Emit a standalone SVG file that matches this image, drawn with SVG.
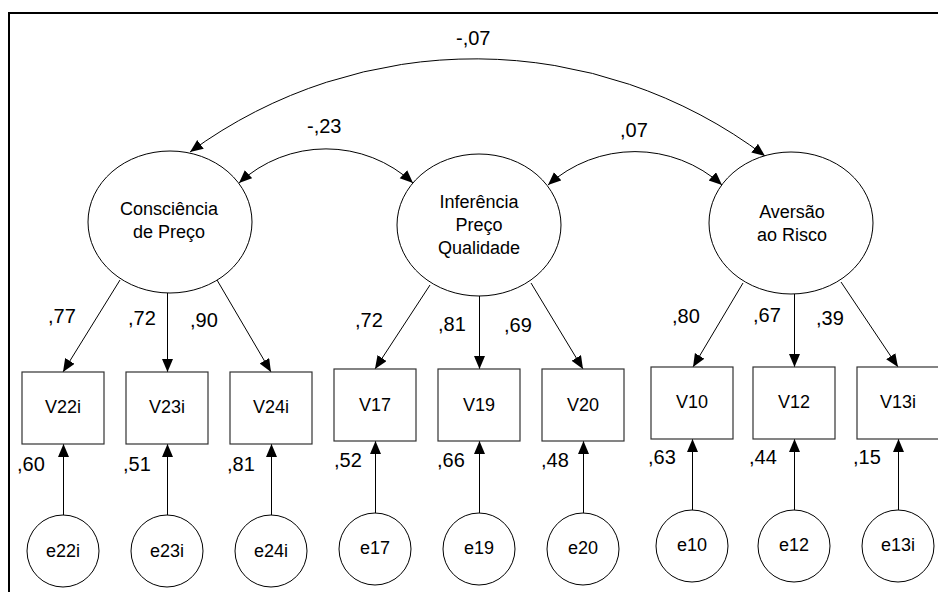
<svg xmlns="http://www.w3.org/2000/svg" width="938" height="592" viewBox="0 0 938 592">
<style>
  .lat { fill: #fff; stroke: #000; stroke-width: 1; }
  .box { fill: #fff; stroke: #333; stroke-width: 1.2; }
  .err { fill: #fff; stroke: #000; stroke-width: 1; }
  .t { font-family: "Liberation Sans", Arial, sans-serif; font-size: 18px; fill: #000; text-anchor: middle; }
  .lb { font-family: "Liberation Sans", Arial, sans-serif; font-size: 20px; fill: #000; }
  .c line, .c path { stroke: #000; stroke-width: 1; fill: none; }
  .c line { marker-end: url(#ah); }
  .c path { marker-end: url(#ah); marker-start: url(#ahs); }
</style>
<defs>
  <marker id="ah" markerUnits="userSpaceOnUse" markerWidth="14" markerHeight="12" refX="13" refY="5.5" orient="auto">
    <path d="M0,0 L13,5.5 L0,11 z" fill="#000"/>
  </marker>
  <marker id="ahs" markerUnits="userSpaceOnUse" markerWidth="14" markerHeight="12" refX="13" refY="5.5" orient="auto-start-reverse">
    <path d="M0,0 L13,5.5 L0,11 z" fill="#000"/>
  </marker>
</defs>
<rect x="0" y="0" width="938" height="592" fill="#fff"/>
<rect x="9" y="13" width="960" height="620" fill="none" stroke="#000" stroke-width="2"/>

<g id="connectors" class="c">
  <path d="M190,152 A482,482 0 0 1 765,156"/>
  <path d="M239,183 A128,128 0 0 1 413,183"/>
  <path d="M548,185 A130,130 0 0 1 722,185"/>
  <line x1="120" y1="280" x2="63" y2="372"/>
  <line x1="167.5" y1="293" x2="167.5" y2="372"/>
  <line x1="217" y1="280" x2="271" y2="372"/>
  <line x1="430" y1="285" x2="375" y2="369"/>
  <line x1="479.5" y1="296" x2="479.5" y2="369"/>
  <line x1="531" y1="283" x2="583" y2="369"/>
  <line x1="743" y1="283" x2="693" y2="367"/>
  <line x1="794.5" y1="294" x2="794.5" y2="367"/>
  <line x1="841" y1="282" x2="898" y2="367"/>
  <line x1="63.5" y1="515" x2="63.5" y2="444"/>
  <line x1="167.5" y1="515" x2="167.5" y2="444"/>
  <line x1="271.5" y1="515" x2="271.5" y2="444"/>
  <line x1="375.5" y1="513" x2="375.5" y2="441"/>
  <line x1="479.5" y1="513" x2="479.5" y2="441"/>
  <line x1="583.5" y1="513" x2="583.5" y2="441"/>
  <line x1="692.5" y1="510" x2="692.5" y2="439"/>
  <line x1="794.5" y1="510" x2="794.5" y2="439"/>
  <line x1="898.5" y1="510" x2="898.5" y2="439"/>
</g>

<g id="labels">
  <text class="lb" x="456" y="45">-,07</text>
  <text class="lb" x="307" y="133">-,23</text>
  <text class="lb" x="620" y="137">,07</text>
  <text class="lb" x="48" y="323">,77</text>
  <text class="lb" x="128" y="325">,72</text>
  <text class="lb" x="190" y="327">,90</text>
  <text class="lb" x="355" y="327">,72</text>
  <text class="lb" x="438" y="331">,81</text>
  <text class="lb" x="504" y="332">,69</text>
  <text class="lb" x="672" y="323">,80</text>
  <text class="lb" x="753" y="322">,67</text>
  <text class="lb" x="816" y="325">,39</text>
  <text class="lb" x="17" y="471">,60</text>
  <text class="lb" x="123" y="471">,51</text>
  <text class="lb" x="227" y="471">,81</text>
  <text class="lb" x="334" y="467">,52</text>
  <text class="lb" x="437" y="467">,66</text>
  <text class="lb" x="541" y="467">,48</text>
  <text class="lb" x="648" y="464">,63</text>
  <text class="lb" x="749" y="464">,44</text>
  <text class="lb" x="853" y="464">,15</text>
</g>

<g id="L1"><ellipse class="lat" cx="170" cy="222" rx="82" ry="71"/>
  <text class="t" x="169" y="215">Consciência</text><text class="t" x="169" y="238">de Preço</text></g>
<g id="L2"><ellipse class="lat" cx="479" cy="225" rx="82" ry="71"/>
  <text class="t" x="479" y="208">Inferência</text><text class="t" x="479" y="231">Preço</text><text class="t" x="479" y="254">Qualidade</text></g>
<g id="L3"><ellipse class="lat" cx="791" cy="223" rx="82" ry="71"/>
  <text class="t" x="792" y="218">Aversão</text><text class="t" x="792" y="241">ao Risco</text></g>

<g id="V22i"><rect class="box" x="22" y="372" width="82" height="72"/><text class="t" x="63" y="413">V22i</text></g>
<g id="V23i"><rect class="box" x="126" y="372" width="82" height="72"/><text class="t" x="167" y="413">V23i</text></g>
<g id="V24i"><rect class="box" x="230" y="372" width="82" height="72"/><text class="t" x="271" y="413">V24i</text></g>
<g id="V17"><rect class="box" x="334" y="369" width="82" height="72"/><text class="t" x="375" y="411">V17</text></g>
<g id="V19"><rect class="box" x="438" y="369" width="82" height="72"/><text class="t" x="479" y="411">V19</text></g>
<g id="V20"><rect class="box" x="542" y="369" width="82" height="72"/><text class="t" x="583" y="411">V20</text></g>
<g id="V10"><rect class="box" x="651" y="367" width="82" height="72"/><text class="t" x="692" y="408">V10</text></g>
<g id="V12"><rect class="box" x="753" y="367" width="82" height="72"/><text class="t" x="794" y="408">V12</text></g>
<g id="V13i"><rect class="box" x="857" y="367" width="82" height="72"/><text class="t" x="898" y="408">V13i</text></g>

<g id="e22i"><circle class="err" cx="63" cy="551" r="36"/><text class="t" x="63" y="557">e22i</text></g>
<g id="e23i"><circle class="err" cx="167" cy="551" r="36"/><text class="t" x="167" y="557">e23i</text></g>
<g id="e24i"><circle class="err" cx="271" cy="551" r="36"/><text class="t" x="271" y="557">e24i</text></g>
<g id="e17"><circle class="err" cx="375" cy="549" r="36"/><text class="t" x="375" y="554">e17</text></g>
<g id="e19"><circle class="err" cx="479" cy="549" r="36"/><text class="t" x="479" y="554">e19</text></g>
<g id="e20"><circle class="err" cx="583" cy="549" r="36"/><text class="t" x="583" y="554">e20</text></g>
<g id="e10"><circle class="err" cx="692" cy="546" r="36"/><text class="t" x="692" y="551">e10</text></g>
<g id="e12"><circle class="err" cx="794" cy="546" r="36"/><text class="t" x="794" y="551">e12</text></g>
<g id="e13i"><circle class="err" cx="898" cy="546" r="36"/><text class="t" x="898" y="551">e13i</text></g>
</svg>
